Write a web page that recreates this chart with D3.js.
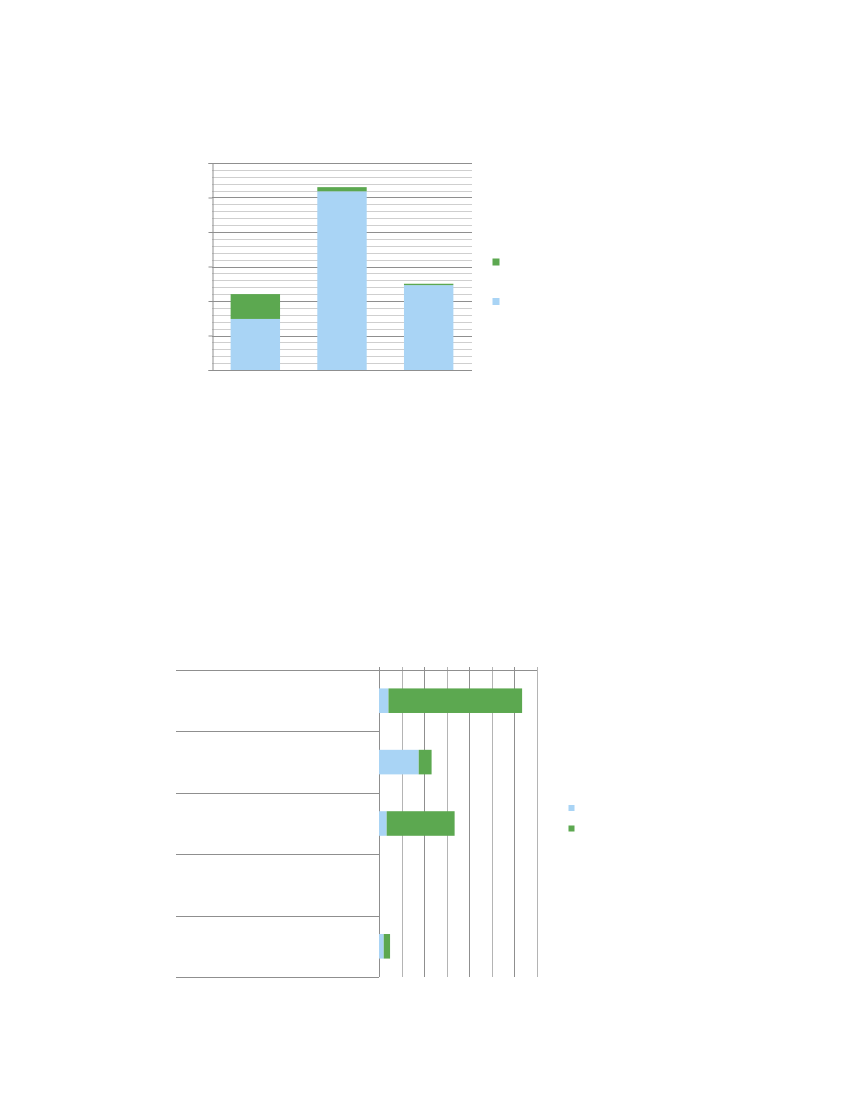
<!DOCTYPE html>
<html>
<head>
<meta charset="utf-8">
<script src="https://cdn.jsdelivr.net/npm/d3@7"></script>
<style>
  body { margin:0; background:#fff; }
  svg { display:block; }
</style>
</head>
<body>
<div id="chart-area"></div>
<script>
// Data (charts carry no visible labels)
var colCategories = ["c1", "c2", "c3"];
var colBlue  = [7.4, 25.9, 12.3];
var colGreen = [3.6, 0.6, 0.2];

var rowCategories = ["r1", "r2", "r3", "r4", "r5"];
var rowBlue  = [4.2, 17.6, 3.4, 0, 2.1];
var rowGreen = [59.2, 5.7, 30.1, 0, 2.8];

var blue = "#a9d4f5", green = "#5ca850";
var dark = "#8f8f8f", light = "#cfcfcf";

var svg = d3.select("#chart-area").append("svg")
    .attr("width", 850).attr("height", 1100);

// ---------- Column chart ----------
var top1 = {left:212, top:163, width:260, height:207};

var y = d3.scaleLinear().domain([0, 30]).range([top1.height, 0]);
var x = d3.scaleBand().domain(colCategories)
    .range([0, top1.width]).paddingInner(0.43).paddingOuter(0.215);

var g1 = svg.append("g")
    .attr("transform", "translate(" + top1.left + "," + top1.top + ")");

// minor + major gridlines
g1.append("g").selectAll("line")
    .data(d3.range(0, 31))
    .join("line")
        .attr("x1", 0).attr("x2", top1.width)
        .attr("y1", d => Math.round(y(d)) + 0.5)
        .attr("y2", d => Math.round(y(d)) + 0.5)
        .attr("stroke", d => d % 5 == 0 ? dark : light);

// y axis with major ticks only, no labels
g1.append("g")
    .attr("transform", "translate(0.5,0)")
    .call(d3.axisLeft(y).tickValues(d3.range(0, 31, 5)).tickSize(4).tickFormat(""))
    .call(g => g.select(".domain").attr("stroke", dark))
    .call(g => g.selectAll(".tick line").attr("stroke", dark));

var colData = colCategories.map((c, i) => ({cat:c, blue:colBlue[i], green:colGreen[i]}));

g1.selectAll(".blue").data(colData).join("rect")
    .attr("class", "blue")
    .attr("x", d => x(d.cat)).attr("width", x.bandwidth())
    .attr("y", d => y(d.blue)).attr("height", d => top1.height - y(d.blue))
    .attr("fill", blue);

g1.selectAll(".green").data(colData).join("rect")
    .attr("class", "green")
    .attr("x", d => x(d.cat)).attr("width", x.bandwidth())
    .attr("y", d => y(d.blue + d.green)).attr("height", d => y(d.blue) - y(d.blue + d.green))
    .attr("fill", green);

// legend
svg.append("rect").attr("x", 492.5).attr("y", 258.5).attr("width", 7).attr("height", 7).attr("fill", green);
svg.append("rect").attr("x", 492.5).attr("y", 298).attr("width", 7).attr("height", 7).attr("fill", blue);

// ---------- Bar chart ----------
var bot = {left:379, top:670, width:158, height:307, labelW:203};

var xb = d3.scaleLinear().domain([0, 70]).range([0, bot.width]);
var yb = d3.scaleBand().domain(rowCategories).range([0, bot.height])
    .paddingInner(0.6).paddingOuter(0.3);
var yBand = d3.scaleBand().domain(rowCategories).range([0, bot.height]);

var g2 = svg.append("g")
    .attr("transform", "translate(" + bot.left + "," + bot.top + ")");

// vertical gridlines + top ticks
g2.append("g").selectAll("line")
    .data(d3.range(0, 71, 10))
    .join("line")
        .attr("x1", d => Math.round(xb(d)) + 0.5).attr("x2", d => Math.round(xb(d)) + 0.5)
        .attr("y1", -3).attr("y2", bot.height)
        .attr("stroke", (d, i) => i % 2 == 0 ? dark : "#b4b4b4");

// top axis line
g2.append("line")
    .attr("x1", -bot.labelW).attr("x2", bot.width)
    .attr("y1", 0.5).attr("y2", 0.5).attr("stroke", dark);

// category separators
g2.append("g").selectAll("line")
    .data(rowCategories)
    .join("line")
        .attr("x1", -bot.labelW).attr("x2", 0)
        .attr("y1", d => Math.round(yBand(d) + yBand.bandwidth()) + 0.5)
        .attr("y2", d => Math.round(yBand(d) + yBand.bandwidth()) + 0.5)
        .attr("stroke", dark);

var rowData = rowCategories.map((c, i) => ({cat:c, blue:rowBlue[i], green:rowGreen[i]}));

g2.selectAll(".blue").data(rowData).join("rect")
    .attr("class", "blue")
    .attr("y", d => yb(d.cat)).attr("height", yb.bandwidth())
    .attr("x", xb(0)).attr("width", d => xb(d.blue))
    .attr("fill", blue);

g2.selectAll(".green").data(rowData).join("rect")
    .attr("class", "green")
    .attr("y", d => yb(d.cat)).attr("height", yb.bandwidth())
    .attr("x", d => xb(d.blue)).attr("width", d => xb(d.blue + d.green) - xb(d.blue))
    .attr("fill", green);

// legend
svg.append("rect").attr("x", 568.5).attr("y", 805).attr("width", 6).attr("height", 6).attr("fill", blue);
svg.append("rect").attr("x", 568.5).attr("y", 825.5).attr("width", 6).attr("height", 6).attr("fill", green);
</script>
</body>
</html>
